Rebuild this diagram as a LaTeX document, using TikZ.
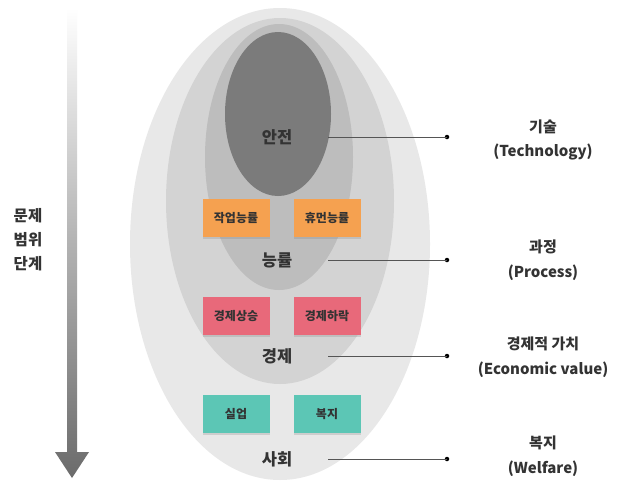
\documentclass[tikz,border=0pt]{standalone}
\usepackage{fontspec}
\setmainfont{Noto Sans CJK KR}
\usetikzlibrary{shapes.geometric,shadows}
\definecolor{ringA}{HTML}{E8E8E8}
\definecolor{ringB}{HTML}{D3D3D3}
\definecolor{ringC}{HTML}{BDBDBD}
\definecolor{ringD}{HTML}{7B7B7B}
\definecolor{noteorange}{HTML}{F5A150}
\definecolor{notepink}{HTML}{E8697A}
\definecolor{noteteal}{HTML}{5CC6B5}
\definecolor{txt}{HTML}{333333}
\definecolor{linec}{HTML}{555555}
\begin{document}
\begin{tikzpicture}[x=1pt,y=-1pt,
  ring/.style={ellipse,inner sep=0pt,draw=none},
  note/.style={minimum width=67pt,minimum height=38pt,inner sep=0pt,font=\fontsize{12}{13}\selectfont\bfseries,text=txt,
     drop shadow={shadow xshift=0pt,shadow yshift=-1.5pt,opacity=0.25}},
  level/.style={font=\fontsize{16.5}{18}\selectfont\bfseries,text=txt,inner sep=1pt},
  rlabel/.style={font=\fontsize{15}{24.5}\selectfont\bfseries,text=txt,align=center},
  leader/.style={draw=linec,line width=0.9pt},
  dotc/.style={circle,fill=black,inner sep=0pt,minimum size=4.5pt}]
\useasboundingbox (0,0) rectangle (618,482);
\fill[white] (0,0) rectangle (618,482);
% arrow
\shade[top color=white,bottom color=black!58,middle color=black!30]
  (67,8) -- (77,8) -- (77,452) -- (89,452) -- (72,478) -- (55,452) -- (67,452) -- cycle;
\node[font=\fontsize{15.5}{24}\selectfont\bfseries,text=txt,align=center] (stage) at (28,240) {문제\\범위\\단계};
% ellipses
\node[ring,fill=ringA,minimum width=300pt,minimum height=472pt] (society) at (280,244) {};
\node[ring,fill=ringB,minimum width=228pt,minimum height=366pt] (economy) at (280,201) {};
\node[ring,fill=ringC,minimum width=148pt,minimum height=266pt] (effic) at (279,157) {};
\node[ring,fill=ringD,minimum width=106pt,minimum height=164pt] (safety) at (278,114) {};
% notes
\node[note,fill=noteorange] (n1) at (236,218) {작업능률};
\node[note,fill=noteorange] (n2) at (327,218) {휴먼능률};
\node[note,fill=notepink] (n3) at (236,316) {경제상승};
\node[note,fill=notepink] (n4) at (327,316) {경제하락};
\node[note,fill=noteteal] (n5) at (236,414) {실업};
\node[note,fill=noteteal] (n6) at (327,414) {복지};
% level labels
\node[level] (l1) at (277,137) {안전};
\node[level] (l2) at (277,260) {능률};
\node[level] (l3) at (277,356) {경제};
\node[level] (l4) at (277,459) {사회};
% dots
\node[dotc] (d1) at (447,137) {};
\node[dotc] (d2) at (447,260) {};
\node[dotc] (d3) at (447,356) {};
\node[dotc] (d4) at (447,459) {};
\coordinate (s1) at (328,137);
\coordinate (s2) at (328,260);
\coordinate (s3) at (328,356);
\coordinate (s4) at (328,459);
\draw[leader] (s1) -- (d1.center);
\draw[leader] (s2) -- (d2.center);
\draw[leader] (s3) -- (d3.center);
\draw[leader] (s4) -- (d4.center);
% right labels
\node[rlabel] (r1) at (543,140) {기술\\(Technology)};
\node[rlabel] (r2) at (543,260) {과정\\(Process)};
\node[rlabel] (r3) at (543,357) {경제적 가치\\(Economic value)};
\node[rlabel] (r4) at (543,456) {복지\\(Welfare)};
\end{tikzpicture}
\end{document}
